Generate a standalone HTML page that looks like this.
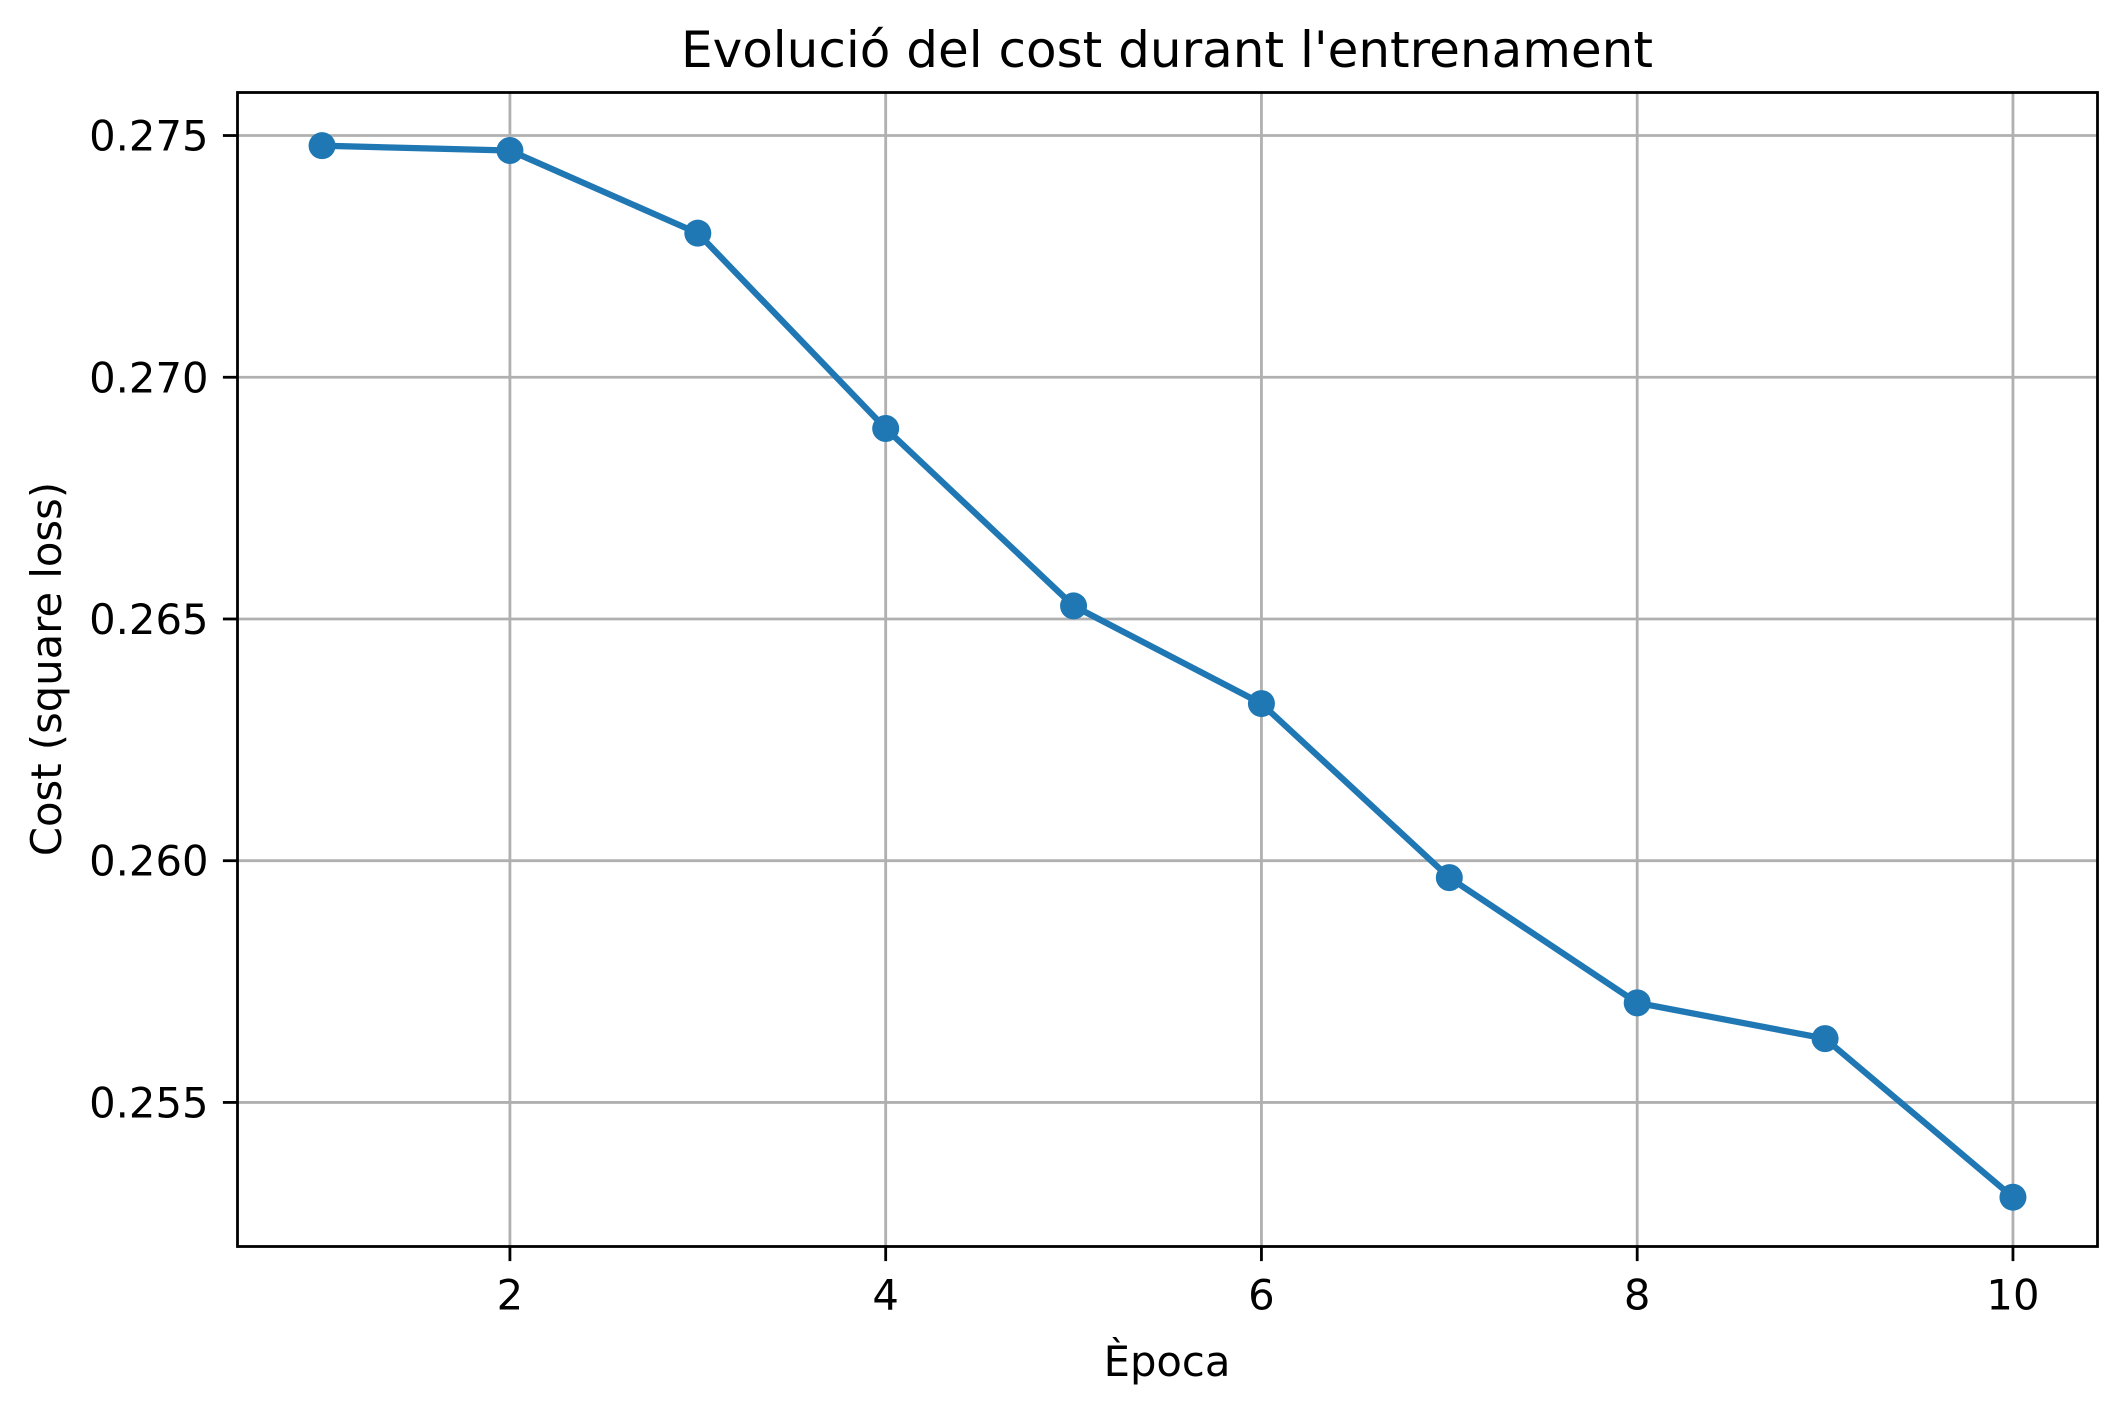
<!DOCTYPE html>
<html><head><meta charset="utf-8"><style>
html,body{margin:0;padding:0;background:#fff}
svg{display:block}
text{font-family:"DejaVu Sans","Liberation Sans",sans-serif;fill:#000}
</style></head><body>
<svg id="chart" width="2126" height="1414" viewBox="0 0 2126 1414">
<rect width="2126" height="1414" fill="#fff"/>
<g id="grid"></g>
<g id="series"></g>
<rect x="237.5" y="92.5" width="1860" height="1154" fill="none" stroke="#000" stroke-width="2.8"/>
<g id="ticks"></g>
<text x="1167" y="67" font-size="50" text-anchor="middle">Evolució del cost durant l'entrenament</text>
<text x="1167" y="1376" font-size="41.7" text-anchor="middle">Època</text>
<text x="0" y="0" font-size="41.7" text-anchor="middle" transform="translate(61,669) rotate(-90)">Cost (square loss)</text>
</svg>
<script>
const epochs = [1,2,3,4,5,6,7,8,9,10];
const costs = [0.27479,0.27469,0.27298,0.26894,0.26527,0.26325,0.25965,0.25706,0.25632,0.25304];
const xTicks = [2,4,6,8,10];
const yTicks = [0.255,0.260,0.265,0.270,0.275];
const yTickLabels = ["0.255","0.260","0.265","0.270","0.275"];

const L=237.5,R=2097.5,T=92.5,B=1246.5;
const xMin=0.55,xMax=10.45,yMin=0.25202,yMax=0.27589;
function sx(v){return L+(v-xMin)/(xMax-xMin)*(R-L);}
function sy(v){return B-(v-yMin)/(yMax-yMin)*(B-T);}
const NS="http://www.w3.org/2000/svg";
function mk(tag,attrs,parent){const e=document.createElementNS(NS,tag);for(const k in attrs)e.setAttribute(k,attrs[k]);parent.appendChild(e);return e;}
const grid=document.getElementById('grid'),ticks=document.getElementById('ticks'),series=document.getElementById('series');
xTicks.forEach(v=>{
  const x=sx(v);
  const g=mk('line',{x1:x,x2:x,y1:T,y2:B,stroke:'#b0b0b0','stroke-width':2.8},grid);
  
  
  const t=mk('line',{x1:x,x2:x,y1:B,y2:B+14.6,stroke:'#000','stroke-width':2.8},ticks);
  
  
  const l=mk('text',{x:x,y:B+63,'font-size':41.7,'text-anchor':'middle'},ticks);
  l.textContent=String(v);
  
  
});
yTicks.forEach((v,i)=>{
  const y=sy(v);
  const g=mk('line',{x1:L,x2:R,y1:y,y2:y,stroke:'#b0b0b0','stroke-width':2.8},grid);
  
  
  const t=mk('line',{x1:L-14.6,x2:L,y1:y,y2:y,stroke:'#000','stroke-width':2.8},ticks);
  
  
  const l=mk('text',{x:L-29,y:y+15,'font-size':41.7,'text-anchor':'end'},ticks);
  l.textContent=yTickLabels[i];
  
  
});
const pts=epochs.map((e,i)=>sx(e)+','+sy(costs[i])).join(' ');
const pl=mk('polyline',{points:pts,fill:'none',stroke:'#1f77b4','stroke-width':6.25,'stroke-linejoin':'round','stroke-linecap':'square'},series);


epochs.forEach((e,i)=>{
  const c=mk('circle',{cx:sx(e),cy:sy(costs[i]),r:13.5,fill:'#1f77b4'},series);
  
  
});
</script>
</body></html>
